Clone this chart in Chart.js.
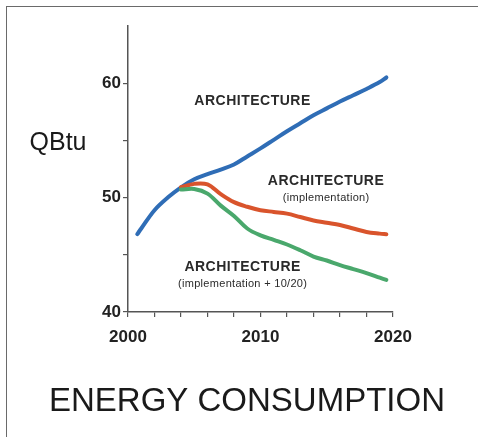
<!DOCTYPE html>
<html>
<head>
<meta charset="utf-8">
<title>Energy consumption</title>
<script src="https://cdn.jsdelivr.net/npm/chart.js@4/dist/chart.umd.min.js"></script>
<style>
  html, body { margin: 0; padding: 0; background: #fff; overflow: hidden; }
  #wrap { position: relative; width: 478px; height: 437px; }
  #frame { position: absolute; left: 6px; top: 6px; width: 490px; height: 450px; border: 1px solid #6a6a6a; box-sizing: border-box; }
  #wrap canvas { position: absolute; left: 0; top: 0; }
</style>
</head>
<body>
<div id="wrap">
  <div id="frame"></div>
  <canvas id="energyChart" width="478" height="437"></canvas>
</div>
<script>
// données (QBtu par année)
const years = [2000.7, 2001, 2002, 2003, 2004, 2005, 2006, 2007, 2008, 2009, 2010,
               2011, 2012, 2013, 2014, 2015, 2016, 2017, 2018, 2019, 2019.5];
const architecture = [46.8, 47.3, 48.9, 50.0, 50.9, 51.6, 52.05, 52.45, 52.9, 53.6, 54.3,
                      55.05, 55.8, 56.5, 57.2, 57.8, 58.4, 58.95, 59.5, 60.1, 60.5];
const implementation = [null, null, null, null, 50.9, 51.2, 51.15, 50.3, 49.6, 49.2, 48.9,
                        48.75, 48.6, 48.3, 48.0, 47.8, 47.6, 47.3, 47.0, 46.85, 46.8];
const implementation1020 = [null, null, null, null, 50.7, 50.75, 50.35, 49.3, 48.4, 47.3, 46.7,
                            46.3, 45.9, 45.4, 44.85, 44.5, 44.1, 43.75, 43.4, 43.0, 42.8];
const yLabels = [40, 50, 60];
const xLabels = [2000, 2010, 2020];

const FONT = "'Liberation Sans', Arial, Helvetica, sans-serif";

function toPoints(vals) {
  return years.map((x, i) => ({ x: x, y: vals[i] }));
}

// texte des courbes, placé en unités de données
const notes = [
  { text: "ARCHITECTURE", x: 2009.4, y: 58.45, size: 14, bold: true },
  { text: "ARCHITECTURE", x: 2014.95, y: 51.45, size: 14, bold: true },
  { text: "(implementation)", x: 2014.95, y: 49.95, size: 11, bold: false },
  { text: "ARCHITECTURE", x: 2008.65, y: 43.9, size: 14, bold: true },
  { text: "(implementation + 10/20)", x: 2008.65, y: 42.45, size: 11, bold: false }
];

const textPlugin = {
  id: "textPlugin",
  afterDraw(chart) {
    const ctx = chart.ctx;
    const xs = chart.scales.x, ys = chart.scales.y;
    ctx.save();
    ctx.textAlign = "center";
    ctx.textBaseline = "middle";
    ctx.fillStyle = "#2a2a2a";
    notes.forEach(n => {
      ctx.font = (n.bold ? "bold " : "") + n.size + "px " + FONT;
      ctx.letterSpacing = n.bold ? "0.5px" : "0.3px";
      ctx.fillText(n.text, xs.getPixelForValue(n.x), ys.getPixelForValue(n.y));
    });
    ctx.letterSpacing = "0px";
    ctx.fillStyle = "#1a1a1a";
    ctx.font = "25px " + FONT;
    ctx.fillText("QBtu", 58, 143);
    ctx.font = "33px " + FONT;
    ctx.fillText("ENERGY CONSUMPTION", 247, 402);
    ctx.restore();
  }
};

function lineSet(label, vals, color) {
  return {
    label: label,
    data: toPoints(vals),
    borderColor: color,
    backgroundColor: color,
    borderWidth: 4,
    pointRadius: 0,
    tension: 0.35,
    borderCapStyle: "round",
    borderJoinStyle: "round"
  };
}

new Chart(document.getElementById("energyChart").getContext("2d"), {
  type: "line",
  data: {
    datasets: [
      lineSet("ARCHITECTURE (implementation + 10/20)", implementation1020, "#4aa86c"),
      lineSet("ARCHITECTURE (implementation)", implementation, "#d9542c"),
      lineSet("ARCHITECTURE", architecture, "#2f6db6")
    ]
  },
  options: {
    responsive: false,
    animation: false,
    layout: { padding: { left: 0, top: 26, right: 85, bottom: 85 } },
    plugins: { legend: { display: false }, tooltip: { enabled: false } },
    scales: {
      x: {
        type: "linear",
        min: 2000,
        max: 2020,
        afterFit(s) { s.height = 40; },
        grid: { drawOnChartArea: false, drawTicks: true, tickLength: 5, color: "#555", lineWidth: 1.2 },
        border: { display: true, color: "#555", width: 1.5 },
        ticks: {
          stepSize: 2,
          autoSkip: false,
          maxRotation: 0,
          minRotation: 0,
          padding: 10,
          color: "#222",
          font: { family: FONT, size: 17, weight: "bold" },
          callback: v => xLabels.includes(v) ? String(v) : ""
        }
      },
      y: {
        min: 40,
        max: 65,
        afterFit(s) { s.width = 128; },
        grid: { drawOnChartArea: false, drawTicks: true, tickLength: 5, color: "#555", lineWidth: 1.2 },
        border: { display: true, color: "#555", width: 1.5 },
        ticks: {
          stepSize: 5,
          autoSkip: false,
          padding: 2,
          color: "#222",
          font: { family: FONT, size: 17, weight: "bold" },
          callback: v => v === 65 ? null : (yLabels.includes(v) ? String(v) : "")
        }
      }
    }
  },
  plugins: [textPlugin]
});
</script>
</body>
</html>
